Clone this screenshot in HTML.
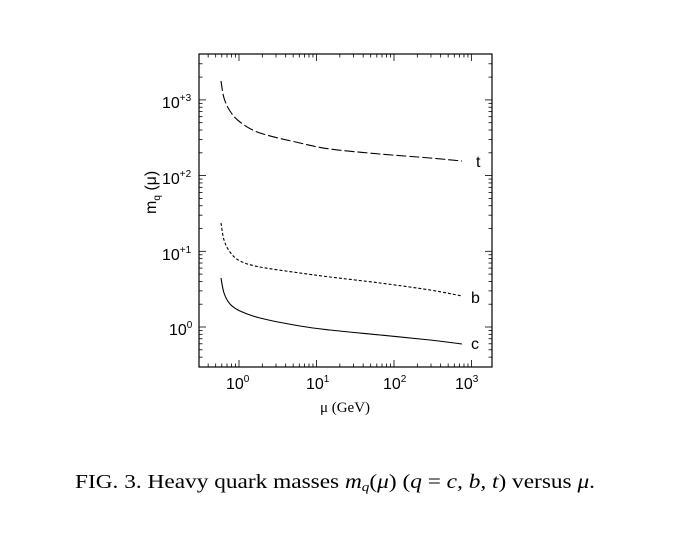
<!DOCTYPE html>
<html><head><meta charset="utf-8"><style>
body{margin:0;background:#fff;width:700px;height:533px;overflow:hidden}
svg{position:absolute;left:0;top:0}
</style></head><body>
<svg id="s" width="700" height="533" xmlns="http://www.w3.org/2000/svg" font-family="Liberation Sans, sans-serif">
<rect x="199" y="54" width="293" height="313" fill="none" stroke="#000" stroke-width="1.2"/>
<g id="ticks" stroke="#000" stroke-width="0.8"></g>
<g fill="none" stroke="#000" stroke-width="1.1">
<path id="pt" stroke-dasharray="10,3"/>
<path id="pb" stroke-dasharray="3,2"/>
<path id="pc"/>
</g>
<g font-size="16" fill="#000">
<text x="476" y="167">t</text><text x="471" y="303">b</text><text x="471" y="349">c</text>
<text x="162" y="108">10<tspan font-size="10" dy="-7">+3</tspan></text>
<text x="162" y="184">10<tspan font-size="10" dy="-7">+2</tspan></text>
<text x="162" y="260">10<tspan font-size="10" dy="-7">+1</tspan></text>
<text x="169" y="335">10<tspan font-size="10" dy="-7">0</tspan></text>
<text x="226" y="389">10<tspan font-size="10" dy="-7">0</tspan></text>
<text x="306" y="389">10<tspan font-size="10" dy="-7">1</tspan></text>
<text x="383" y="389">10<tspan font-size="10" dy="-7">2</tspan></text>
<text x="455" y="389">10<tspan font-size="10" dy="-7">3</tspan></text>
<text transform="translate(156,214) rotate(-90)" font-size="16">m<tspan font-size="10" dy="4">q</tspan><tspan dy="-4"> (μ)</tspan></text>
</g>
<text x="345" y="412" font-family="Liberation Serif, serif" font-size="15" text-anchor="middle">μ (GeV)</text>
<text x="75" y="488" font-family="Liberation Serif, serif" font-size="20" textLength="520" lengthAdjust="spacingAndGlyphs">FIG. 3.  Heavy quark masses <tspan font-style="italic">m<tspan font-size="13" dy="3">q</tspan></tspan><tspan dy="-3">(</tspan><tspan font-style="italic">μ</tspan>) (<tspan font-style="italic">q</tspan> = <tspan font-style="italic">c, b, t</tspan>) versus <tspan font-style="italic">μ</tspan>.</text>
</svg>
<script>
var g=document.getElementById('ticks'),h='';
function L(x1,y1,x2,y2){h+='<line x1="'+x1+'" y1="'+y1+'" x2="'+x2+'" y2="'+y2+'"/>';}
var x0=239,dx=77.5;
for(var d=-1;d<=3;d++)for(var k=1;k<10;k++){var x=x0+dx*(d+Math.log10(k));if(x<200||x>491)continue;var l=k==1?7:3.5;L(x,367,x,367-l);L(x,54,x,54+l);}
var y0=327,dy=75.7;
for(var d=-1;d<=3;d++)for(var k=1;k<10;k++){var y=y0-dy*(d+Math.log10(k));if(y<55||y>366)continue;var l=k==1?7:3.5;L(199,y,199+l,y);L(492,y,492-l,y);}
g.innerHTML=h;
function cr(p){var s='M'+p[0][0]+','+p[0][1];for(var i=0;i<p.length-1;i++){var a=p[i-1]||p[i],b=p[i],c=p[i+1],d=p[i+2]||c;
s+=' C'+(b[0]+(c[0]-a[0])/6)+','+(b[1]+(c[1]-a[1])/6)+' '+(c[0]-(d[0]-b[0])/6)+','+(c[1]-(d[1]-b[1])/6)+' '+c[0]+','+c[1];}return s;}
document.getElementById('pt').setAttribute('d',cr([[221,81],[224,98],[230,111],[240,122],[260,133],[300,143],[330,149],[380,154],[430,158],[462,161]]));
document.getElementById('pb').setAttribute('d',cr([[221,223],[224,240],[230,252],[240,261],[260,267],[300,273],[330,277],[380,283],[430,290],[462,296]]));
document.getElementById('pc').setAttribute('d',cr([[221,278],[224,293],[230,304],[240,311],[260,318],[300,326],[330,330],[380,335],[430,340],[462,344]]));
</script>
</body></html>
